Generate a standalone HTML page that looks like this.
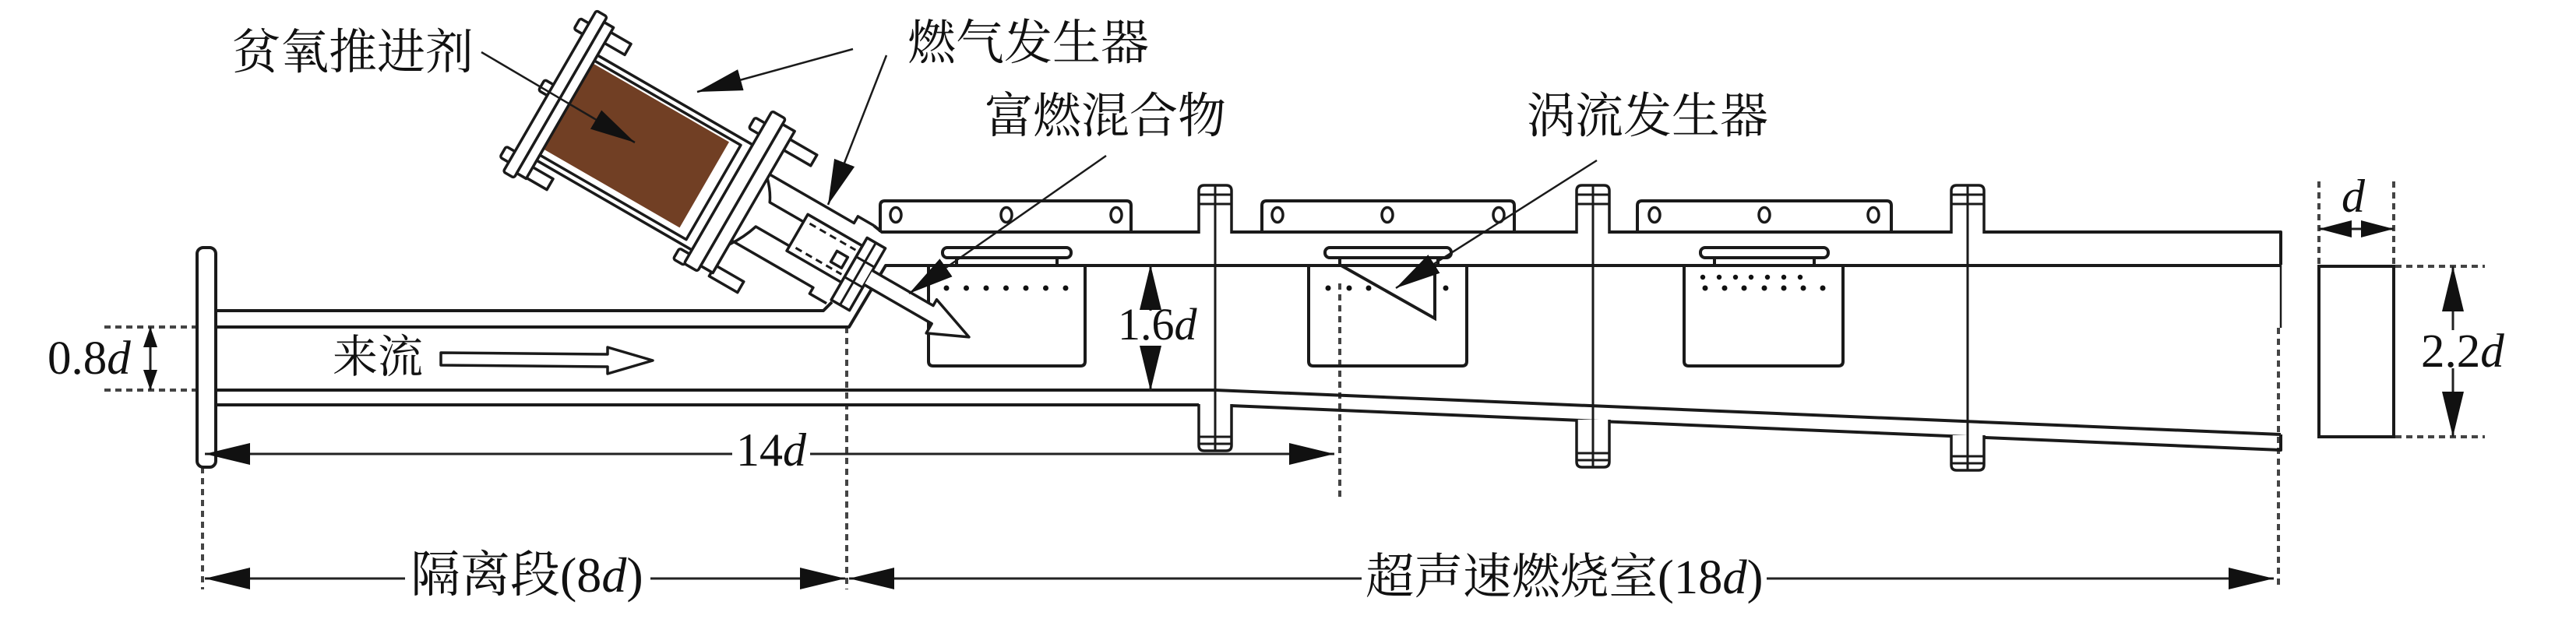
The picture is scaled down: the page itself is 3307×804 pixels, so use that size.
<!DOCTYPE html>
<html><head><meta charset="utf-8"><style>
html,body{margin:0;padding:0;background:#fff;}
svg{display:block;}
text{font-family:"Liberation Serif","Noto Serif CJK SC",serif;fill:#111;}
</style></head><body>
<svg width="3307" height="804" viewBox="0 0 3307 804" xmlns="http://www.w3.org/2000/svg">
<defs>
<marker id="a" viewBox="0 0 58 28" refX="58" refY="14" markerWidth="58" markerHeight="28" markerUnits="userSpaceOnUse" orient="auto-start-reverse"><path d="M0,0 L58,14 L0,28 z" fill="#111"/></marker>
<marker id="s" viewBox="0 0 26 18" refX="26" refY="9" markerWidth="26" markerHeight="18" markerUnits="userSpaceOnUse" orient="auto-start-reverse"><path d="M0,0 L26,9 L0,18 z" fill="#111"/></marker>
<marker id="m" viewBox="0 0 42 22" refX="42" refY="11" markerWidth="42" markerHeight="22" markerUnits="userSpaceOnUse" orient="auto-start-reverse"><path d="M0,0 L42,11 L0,22 z" fill="#111"/></marker>
</defs>
<rect width="3307" height="804" fill="#fff"/>

<!-- dashed guide lines -->
<g stroke="#444" stroke-width="4" stroke-dasharray="8 6" fill="none">
<path d="M134,420 H253 M134,501 H253"/>
<path d="M260,600 V757"/>
<path d="M1087,420 V757"/>
<path d="M1720,364 V640"/>
<path d="M2925,421 V757"/>
<path d="M2977,233 V342 M3073,233 V342"/>
<path d="M3075,342 H3190 M3075,561 H3190"/>
</g>

<!-- duct walls -->
<g stroke="#1a1a1a" stroke-width="4" fill="none" stroke-linejoin="round">
<path d="M277,399 H1057 L1068,388"/>
<path d="M277,420 H1090 L1137,341 H2928"/>
<path d="M1122,290 L1132,298 H2928 V340"/>
<path d="M277,501 H1560 L2928,558"/>
<path d="M277,520 H1539 M1580,521 L2928,578 V558"/>
</g>
<path d="M2928,340 V421" stroke="#1a1a1a" stroke-width="2.5"/>

<!-- plates -->
<g stroke="#1a1a1a" stroke-width="4" fill="none">
<path d="M1130,298 V264 Q1130,258 1136,258 H1446 Q1452,258 1452,264 V298"/>
<path d="M1620,298 V264 Q1620,258 1626,258 H1938 Q1944,258 1944,264 V298"/>
<path d="M2102,298 V264 Q2102,258 2108,258 H2422 Q2428,258 2428,264 V298"/>
</g>
<g stroke="#1a1a1a" stroke-width="3.5" fill="#fff">
<ellipse cx="1150" cy="276" rx="7" ry="9.5"/><ellipse cx="1292" cy="276" rx="7" ry="9.5"/><ellipse cx="1433" cy="276" rx="7" ry="9.5"/>
<ellipse cx="1640" cy="276" rx="7" ry="9.5"/><ellipse cx="1781" cy="276" rx="7" ry="9.5"/><ellipse cx="1924" cy="276" rx="7" ry="9.5"/>
<ellipse cx="2124" cy="276" rx="7" ry="9.5"/><ellipse cx="2265" cy="276" rx="7" ry="9.5"/><ellipse cx="2405" cy="276" rx="7" ry="9.5"/>
</g>

<!-- flanges -->
<g stroke="#1a1a1a" stroke-width="3.5" fill="#fff">
<path d="M1539,300 V245 Q1539,238 1546,238 H1574 Q1581,238 1581,245 V300"/>
<path d="M1539,519 V572 Q1539,579 1546,579 H1574 Q1581,579 1581,572 V519"/>
<path d="M2024,300 V245 Q2024,238 2031,238 H2059 Q2066,238 2066,245 V300"/>
<path d="M2024,539 V593 Q2024,600 2031,600 H2059 Q2066,600 2066,593 V539"/>
<path d="M2505,300 V245 Q2505,238 2512,238 H2540 Q2547,238 2547,245 V300"/>
<path d="M2505,559 V597 Q2505,604 2512,604 H2540 Q2547,604 2547,597 V559"/>
</g>
<g stroke="#1a1a1a" stroke-width="3" fill="none">
<path d="M1560,238 V579 M1539,250 H1581 M1539,262 H1581 M1539,561 H1581 M1539,570 H1581"/>
<path d="M2045,238 V600 M2024,250 H2066 M2024,262 H2066 M2024,582 H2066 M2024,591 H2066"/>
<path d="M2526,238 V604 M2505,250 H2547 M2505,262 H2547 M2505,586 H2547 M2505,595 H2547"/>
</g>

<!-- isolator flange -->
<rect x="253" y="318" width="24" height="282" rx="8" stroke="#1a1a1a" stroke-width="4" fill="#fff"/>

<!-- injector boxes -->
<g stroke="#1a1a1a" stroke-width="4" fill="none">
<path d="M1192,340 V464 Q1192,470 1198,470 H1387 Q1393,470 1393,464 V340"/>
<path d="M1680,340 V464 Q1680,470 1686,470 H1877 Q1883,470 1883,464 V340"/>
<path d="M2162,340 V464 Q2162,470 2168,470 H2360 Q2366,470 2366,464 V340"/>
<rect x="1210" y="318" width="165" height="13" rx="6"/>
<rect x="1701" y="318" width="162" height="13" rx="6"/>
<rect x="2183" y="318" width="164" height="13" rx="6"/>
<path d="M1228,331 V340 M1357,331 V340 M1720,331 V340 M1846,331 V340 M2201,331 V340 M2329,331 V340"/>
<path d="M1720,340 L1842,409 V340"/>
</g>
<g fill="#111">
<circle cx="1215" cy="370" r="3.5"/><circle cx="1240.5" cy="370" r="3.5"/><circle cx="1266" cy="370" r="3.5"/><circle cx="1291.5" cy="370" r="3.5"/><circle cx="1317" cy="370" r="3.5"/><circle cx="1342.5" cy="370" r="3.5"/><circle cx="1368" cy="370" r="3.5"/>
<circle cx="1705" cy="370" r="3.5"/><circle cx="1732" cy="370" r="3.5"/><circle cx="1757" cy="370" r="3.5"/><circle cx="1856" cy="370" r="3.5"/>
<circle cx="2186" cy="356" r="3.2"/><circle cx="2207" cy="356" r="3.2"/><circle cx="2228" cy="356" r="3.2"/><circle cx="2248" cy="356" r="3.2"/><circle cx="2269" cy="356" r="3.2"/><circle cx="2290" cy="356" r="3.2"/><circle cx="2311" cy="356" r="3.2"/>
<circle cx="2189" cy="370" r="3.5"/><circle cx="2214" cy="370" r="3.5"/><circle cx="2239" cy="370" r="3.5"/><circle cx="2265" cy="370" r="3.5"/><circle cx="2290" cy="370" r="3.5"/><circle cx="2315" cy="370" r="3.5"/><circle cx="2340" cy="370" r="3.5"/>
</g>

<!-- gas generator -->
<g transform="translate(731.5,140.5) rotate(30)" stroke="#1a1a1a" stroke-width="3.5" fill="#fff" stroke-linejoin="round">
<rect x="-6" y="-112" width="32" height="16"/>
<rect x="-6" y="88" width="32" height="16"/>
<rect x="262" y="-108" width="42" height="16"/>
<rect x="262" y="80" width="42" height="16"/>
<rect x="-47" y="-108" width="14" height="16" rx="3"/>
<rect x="-47" y="-17" width="14" height="16" rx="3"/>
<rect x="-47" y="82" width="14" height="16" rx="3"/>
<rect x="211" y="-110" width="16" height="16" rx="3"/>
<rect x="211" y="84" width="16" height="16" rx="3"/>
<rect x="-4" y="-78" width="230" height="156"/>
<rect x="-4" y="-70" width="217" height="140" fill="none"/>
<rect x="-4" y="-66" width="202" height="127" fill="#713f24" stroke="none"/>
<rect x="-34" y="-127" width="16" height="239" rx="3"/>
<rect x="-18" y="-119" width="14" height="224"/>
<rect x="226" y="-128" width="20" height="226" rx="3"/>
<rect x="246" y="-120" width="18" height="210"/>
<path d="M264,-56 H389 V-66 H413" fill="none"/>
<path d="M264,42 H385 V51 H410" fill="none"/>
<path d="M264,-50 Q276,-38 282,-25 H332" fill="none"/>
<path d="M264,48 Q276,30 282,11 H332" fill="none"/>
<rect x="332" y="-36" width="81" height="54"/>
<path d="M340,-27 H408 M340,9 H408" stroke-dasharray="9 6" fill="none" stroke-width="3"/>
<rect x="388" y="-14" width="16" height="16"/>
<rect x="413" y="-48" width="27" height="92"/>
<path d="M413,-20 H440 M413,10 H440 M426,-48 V44" fill="none" stroke-width="3"/>
<path d="M440,-15 H530 V-24 L590,-3 L540,20 V6 H440"/>
</g>

<!-- hollow flow arrow -->
<path d="M566,453 L780,455 L780,446 L838,463 L780,480 L780,471 L566,469 Z" fill="#fff" stroke="#1a1a1a" stroke-width="3.5" stroke-linejoin="round"/>

<!-- leader lines -->
<g stroke="#1a1a1a" stroke-width="2.5" fill="none">
<line x1="618" y1="67" x2="815" y2="183" marker-end="url(#a)"/>
<line x1="1095" y1="63" x2="895" y2="118" marker-end="url(#a)"/>
<line x1="1138" y1="71" x2="1063" y2="263" marker-end="url(#a)"/>
<line x1="1420" y1="200" x2="1167" y2="377" marker-end="url(#a)"/>
<line x1="2050" y1="206" x2="1792" y2="370" marker-end="url(#a)"/>
</g>

<!-- dimension lines -->
<g stroke="#222" stroke-width="3" fill="none">
<line x1="193" y1="420" x2="193" y2="501" marker-start="url(#s)" marker-end="url(#s)"/>
<line x1="263" y1="583" x2="1713" y2="583" marker-start="url(#a)" marker-end="url(#a)"/>
<line x1="263" y1="743" x2="1085" y2="743" marker-start="url(#a)" marker-end="url(#a)"/>
<line x1="1090" y1="743" x2="2919" y2="743" marker-start="url(#a)" marker-end="url(#a)"/>
<line x1="1477" y1="340" x2="1477" y2="502" marker-start="url(#a)" marker-end="url(#a)"/>
<line x1="3149" y1="342" x2="3149" y2="561" marker-start="url(#a)" marker-end="url(#a)"/>
<line x1="2977" y1="294" x2="3073" y2="294" marker-start="url(#m)" marker-end="url(#m)"/>
</g>

<!-- exit section -->
<rect x="2977" y="342" width="96" height="219" stroke="#1a1a1a" stroke-width="4" fill="#fff"/>

<!-- text backgrounds -->
<g fill="#fff">
<rect x="940" y="560" width="100" height="40"/>
<rect x="1438" y="399" width="100" height="45"/>
<rect x="3104" y="424" width="114" height="49"/>
<rect x="520" y="712" width="315" height="58"/>
<rect x="1748" y="712" width="520" height="58"/>
</g>

<!-- labels -->
<text x="298" y="88" font-size="62">贫氧推进剂</text>
<text x="1165" y="76" font-size="62">燃气发生器</text>
<text x="1264" y="170" font-size="62">富燃混合物</text>
<text x="1960" y="170" font-size="62">涡流发生器</text>
<text x="427" y="478" font-size="58">来流</text>
<text x="61" y="480" font-size="61">0.8<tspan font-style="italic">d</tspan></text>
<text x="1435" y="436" font-size="58">1.6<tspan font-style="italic">d</tspan></text>
<text x="945" y="598" font-size="60">14<tspan font-style="italic">d</tspan></text>
<text x="3108" y="471" font-size="61">2.2<tspan font-style="italic">d</tspan></text>
<text x="3006" y="272" font-size="60" font-style="italic">d</text>
<text x="527" y="760" font-size="64">隔离段(8<tspan font-style="italic">d</tspan>)</text>
<text x="1753" y="762" font-size="62.5">超声速燃烧室(18<tspan font-style="italic">d</tspan>)</text>
</svg>
</body></html>
